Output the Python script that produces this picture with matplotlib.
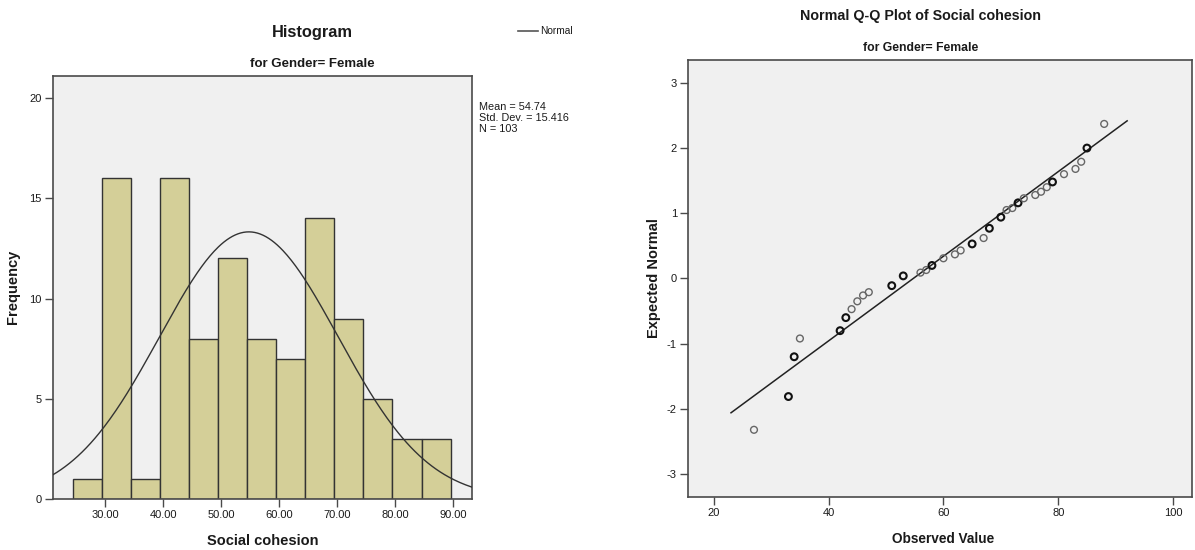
import numpy as np
import matplotlib.pyplot as plt

plt.rcParams["font.family"] = ["Liberation Sans", "DejaVu Sans"]
plt.rcParams["axes.unicode_minus"] = False

# --- data ---
bin_edges = [24.5, 29.5, 34.5, 39.5, 44.5, 49.5, 54.5, 59.5, 64.5, 69.5, 74.5, 79.5, 84.5, 89.5]
freq = [1, 16, 1, 16, 8, 12, 8, 7, 14, 9, 5, 3, 3]
hist_xticks = [30, 40, 50, 60, 70, 80, 90]
hist_yticks = [0, 5, 10, 15, 20]
mean_val = 54.74
sd_val = 15.416
n_val = 103

qq_obs = [27, 33, 34, 35, 42, 43, 44, 45, 46, 47, 51, 53, 56, 57, 58, 60, 62, 63,
          65, 67, 68, 70, 71, 72, 73, 74, 76, 77, 78, 79, 81, 83, 84, 85, 88]
qq_exp = [-2.32, -1.81, -1.20, -0.92, -0.80, -0.60, -0.47, -0.35, -0.26, -0.21, -0.11, 0.04,
          0.09, 0.13, 0.20, 0.31, 0.37, 0.43, 0.53, 0.62, 0.77, 0.94, 1.05, 1.08, 1.16,
          1.23, 1.28, 1.33, 1.40, 1.48, 1.60, 1.68, 1.79, 2.00, 2.37]
# observed values with tied cases (drawn darker)
qq_tied = [33, 34, 42, 43, 51, 53, 58, 65, 68, 70, 73, 79, 85]
qq_line_x = [23, 92]
qq_xticks = [20, 40, 60, 80, 100]
qq_yticks = [-3, -2, -1, 0, 1, 2, 3]

BG = "#f0f0f0"
FRAME = "#4a4a4a"
TXT = "#1a1a1a"

fig = plt.figure(figsize=(11.95, 5.5), dpi=100)

# ---------------- histogram ----------------
ax1 = fig.add_axes([0.0442, 0.0927, 0.351, 0.769])
ax1.set_facecolor(BG)
widths = np.diff(bin_edges)
ax1.bar(bin_edges[:-1], freq, width=widths, align="edge", color="#d4cf98",
        edgecolor="#333333", linewidth=1.0, zorder=2)
# normal curve from the shown mean / sd / N
xs = np.linspace(20.9, 93.3, 300)
bw = bin_edges[1] - bin_edges[0]
ys = n_val * bw / (sd_val * np.sqrt(2 * np.pi)) * np.exp(-0.5 * ((xs - mean_val) / sd_val) ** 2)
ax1.plot(xs, ys, color="#333333", linewidth=1.0, zorder=3)
ax1.set_xlim(20.95, 93.25)
ax1.set_ylim(0, 21.1)
ax1.set_xticks(hist_xticks)
ax1.set_xticklabels([f"{v:.2f}" for v in hist_xticks])
ax1.set_yticks(hist_yticks)

# ---------------- Q-Q plot ----------------
ax2 = fig.add_axes([0.5757, 0.0964, 0.4218, 0.7945])
ax2.set_facecolor(BG)
line_y = [(v - mean_val) / sd_val for v in qq_line_x]
ax2.plot(qq_line_x, line_y, color="#222222", linewidth=1.1, zorder=2)
edge_cols = ["#111111" if v in qq_tied else "#666666" for v in qq_obs]
edge_w = [1.5 if v in qq_tied else 1.0 for v in qq_obs]
ax2.scatter(qq_obs, qq_exp, s=24, facecolors="none", edgecolors=edge_cols,
            linewidths=edge_w, zorder=3)
ax2.set_xlim(15.5, 103.3)
ax2.set_ylim(-3.35, 3.35)
ax2.set_xticks(qq_xticks)
ax2.set_yticks(qq_yticks)

for ax in (ax1, ax2):
    for sp in ax.spines.values():
        sp.set_color(FRAME)
        sp.set_linewidth(1.2)
    ax.tick_params(direction="out", length=6, width=1, color=FRAME,
                   labelsize=8, labelcolor=TXT, pad=2)

# titles and labels
fig.text(312 / 1195, 1 - 33 / 550, "Histogram", ha="center", va="center",
         fontsize=11.8, fontweight="bold", color=TXT)
fig.text(312 / 1195, 1 - 64 / 550, "for Gender= Female", ha="center", va="center",
         fontsize=9.5, fontweight="bold", color=TXT)
fig.text(263 / 1195, 1 - 541 / 550, "Social cohesion", ha="center", va="center",
         fontsize=10.5, fontweight="bold", color=TXT)
fig.text(13 / 1195, 1 - 287 / 550, "Frequency", ha="center", va="center",
         rotation=90, fontsize=10.5, fontweight="bold", color=TXT)

fig.text(479 / 1195, 1 - 102 / 550, f"Mean = {mean_val:.2f}\nStd. Dev. = {sd_val:.3f}\nN = {n_val}",
         ha="left", va="top", fontsize=7.8, color=TXT, linespacing=1.1)
fig.lines.append(plt.Line2D([518 / 1195, 538 / 1195], [1 - 31 / 550, 1 - 31 / 550],
                            transform=fig.transFigure, color="#555555", linewidth=1.2))
fig.text(540 / 1195, 1 - 31 / 550, "Normal", ha="left", va="center",
         fontsize=7.3, color=TXT)

fig.text(921 / 1195, 1 - 16 / 550, "Normal Q-Q Plot of Social cohesion", ha="center", va="center",
         fontsize=10.3, fontweight="bold", color=TXT)
fig.text(921 / 1195, 1 - 48 / 550, "for Gender= Female", ha="center", va="center",
         fontsize=8.8, fontweight="bold", color=TXT)
fig.text(943 / 1195, 1 - 539 / 550, "Observed Value", ha="center", va="center",
         fontsize=9.8, fontweight="bold", color=TXT)
fig.text(654 / 1195, 1 - 278 / 550, "Expected Normal", ha="center", va="center",
         rotation=90, fontsize=10.5, fontweight="bold", color=TXT)

fig.savefig("out.png", dpi=100, facecolor="white")
